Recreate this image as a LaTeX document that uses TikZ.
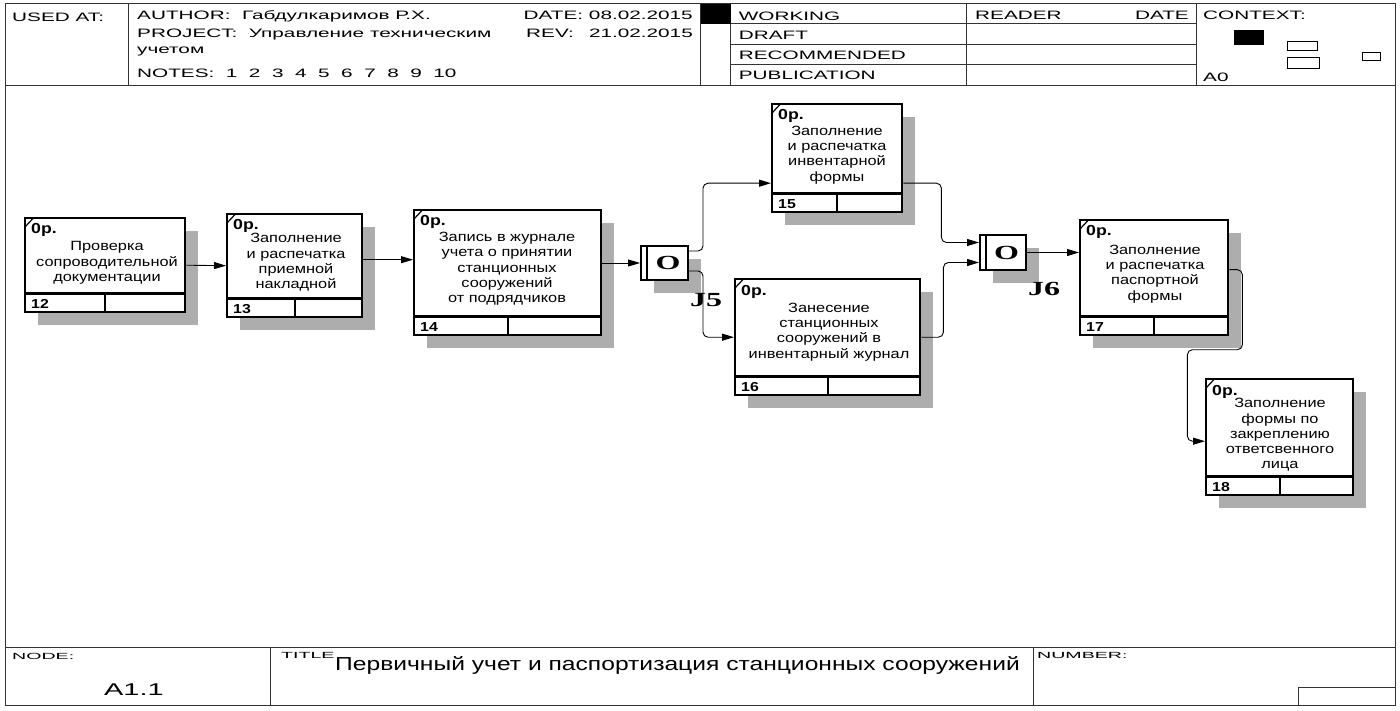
\documentclass[tikz,border=0pt]{standalone}
\usepackage{fontspec}
\setmainfont{Liberation Sans}
\newfontfamily\hdrfont[FakeStretch=1.7]{Liberation Sans}
\newfontfamily\tinyfont[FakeStretch=2.2]{Liberation Sans}
\newfontfamily\boxfont[FakeStretch=1.22]{Liberation Sans}
\newfontfamily\ttlfont[FakeStretch=1.31]{Liberation Sans}
\newfontfamily\jfont[FakeStretch=1.6]{Liberation Serif}
\usetikzlibrary{arrows.meta,shadows}

\begin{document}
\begin{tikzpicture}[x=1pt, y=-1pt,
        frame/.style={line width=1pt, draw=black!80},
        hdr/.style={font=\hdrfont\fontsize{12.2}{14}\selectfont, anchor=base west, inner sep=0pt},
        small/.style={font=\tinyfont\fontsize{8.9}{10}\selectfont, anchor=base west, inner sep=0pt},
        actbox/.style={draw, fill=white, line width=2.4pt, anchor=north west, inner sep=0pt,
            general shadow={fill=black!32, shadow xshift=13pt, shadow yshift=-13pt}},
        acttext/.style={font=\boxfont\fontsize{13.4}{15.3}\selectfont, align=center, inner sep=0pt},
        oplabel/.style={font=\boxfont\bfseries\fontsize{14.5}{16}\selectfont, anchor=base west, inner sep=0pt},
        numlabel/.style={font=\boxfont\bfseries\fontsize{13}{15}\selectfont, anchor=base west, inner sep=0pt},
        jbox/.style={draw, fill=white, line width=2pt, anchor=north west, inner sep=0pt,
            general shadow={fill=black!32, shadow xshift=13pt, shadow yshift=-13pt}},
        jtext/.style={font=\jfont\bfseries\fontsize{20}{22}\selectfont, inner sep=0pt},
        jlabel/.style={font=\jfont\bfseries\fontsize{20}{22}\selectfont, anchor=base west, inner sep=0pt},
        arr/.style={-{Triangle[length=12pt,width=7pt]}, line width=0.9pt, rounded corners=5pt}
    ]
    \path[use as bounding box, fill=white] (0,0) rectangle (1400,711);

    % frame, header and footer
    \draw[frame] (5,4) rectangle (1395,705);
    \draw[frame] (5,86) -- (1395,86);
    \draw[frame] (5,647) -- (1395,647);
    \foreach \x in {128.7, 700.7, 730.7, 966, 1196.7}
        \draw[frame] (\x,4) -- (\x,86);
    \foreach \y in {24, 44.3, 64.3}
        \draw[frame] (730.7,\y) -- (1196.7,\y);
    \fill (700.7,4) rectangle (730.7,24);
    \fill (1234,30) rectangle (1264,45);
    \draw[line width=0.8pt] (1287,41) rectangle (1317,50);
    \draw[line width=0.8pt] (1287,57) rectangle (1319,68);
    \draw[line width=0.8pt] (1362,52) rectangle (1380,60);
    \draw[frame] (270.7,647) -- (270.7,705);
    \draw[frame] (1033,647) -- (1033,705);
    \draw[frame] (1298,687) rectangle (1395,705);

    \node[hdr] (usedat) at (12,21.3) {USED AT:};
    \node[hdr] (author) at (137,20) {AUTHOR:\ \ Габдулкаримов Р.Х.};
    \node[hdr] (project) at (137,38) {PROJECT:\ \ Управление техническим};
    \node[hdr] (project2) at (137,53.3) {учетом};
    \node[hdr] (notes) at (137,77.3) {NOTES:\ \ 1\ \ 2\ \ 3\ \ 4\ \ 5\ \ 6\ \ 7\ \ 8\ \ 9\ \ 10};
    \node[hdr, anchor=base east] (date) at (693,19.3) {DATE: 08.02.2015};
    \node[hdr] (rev) at (526,38) {REV:};
    \node[hdr, anchor=base east] (revdate) at (693,38) {21.02.2015};
    \node[hdr] (working) at (738.7,20.7) {WORKING};
    \node[hdr] (draft) at (738.7,40) {DRAFT};
    \node[hdr] (recommended) at (738.7,60) {RECOMMENDED};
    \node[hdr] (publication) at (738.7,80) {PUBLICATION};
    \node[hdr] (reader) at (975,20) {READER};
    \node[hdr, anchor=base east] (rdate) at (1189,20) {DATE};
    \node[hdr] (context) at (1203,20) {CONTEXT:};
    \node[hdr] (ctxnode) at (1203,81.7) {A0};
    \node[small] (nodelbl) at (12,659) {NODE:};
    \node[hdr, font=\hdrfont\fontsize{17}{20}\selectfont] (nodeno) at (104,695) {A1.1};
    \node[small] (titlelbl) at (281,658.3) {TITLE};
    \node[anchor=base west, inner sep=0pt, font=\ttlfont\fontsize{18.8}{22}\selectfont] (title) at (335,670)
        {Первичный учет и паспортизация станционных сооружений};
    \node[small] (numberlbl) at (1037,658) {NUMBER:};

    % activity boxes
    \node[actbox, minimum width=160pt, minimum height=94pt] (b12) at (24,217) {};
    \node[actbox, minimum width=135pt, minimum height=103pt] (b13) at (226,213) {};
    \node[actbox, minimum width=187pt, minimum height=125pt] (b14) at (413,209) {};
    \node[actbox, minimum width=130pt, minimum height=108pt] (b15) at (771,103) {};
    \node[actbox, minimum width=185pt, minimum height=116pt] (b16) at (734,278) {};
    \node[actbox, minimum width=148pt, minimum height=115pt] (b17) at (1079,219) {};
    \node[actbox, minimum width=147pt, minimum height=116pt] (b18) at (1205,378) {};

    \foreach \b/\n in {b12/12, b13/13, b14/14, b15/15, b16/16, b17/17, b18/18} {
        \draw[line width=2.4pt] ([yshift=20pt]\b.south west) -- ([yshift=20pt]\b.south east);
        \draw[line width=2.4pt] (\b.south) -- ([yshift=20pt]\b.south);
        \draw[line width=1.2pt] ([xshift=1pt,yshift=-10pt]\b.north west) -- ([xshift=9pt,yshift=-1.5pt]\b.north west);
        \node[oplabel] (\b-op) at ([xshift=7pt,yshift=-17pt]\b.north west) {0р.};
        \node[numlabel] (\b-num) at ([xshift=7pt,yshift=5pt]\b.south west) {\n};
    }

    \node[acttext] (t12) at (107,263) {Проверка\\сопроводительной\\документации};
    \node[acttext] (t13) at (296,262.5) {Заполнение\\и распечатка\\приемной\\накладной};
    \node[acttext] (t14) at (507,269) {Запись в журнале\\учета о принятии\\станционных\\сооружений\\от подрядчиков};
    \node[acttext] (t15) at (837,155) {Заполнение\\и распечатка\\инвентарной\\формы};
    \node[acttext] (t16) at (829,332) {Занесение\\станционных\\сооружений в\\инвентарный журнал};
    \node[acttext] (t17) at (1155,274) {Заполнение\\и распечатка\\паспортной\\формы};
    \node[acttext] (t18) at (1280,435) {Заполнение\\формы по\\закреплению\\ответсвенного\\лица};

    % junctions
    \node[jbox, minimum width=47pt, minimum height=34pt] (j5) at (640,245) {};
    \node[jbox, minimum width=46pt, minimum height=35pt] (j6) at (979,234) {};
    \foreach \j/\l in {j5/J5, j6/J6} {
        \draw[line width=2pt] ([xshift=7pt]\j.north west) -- ([xshift=7pt]\j.south west);
        \node[jtext] (\j-o) at ([xshift=3.5pt]\j.center) {O};
        \node[jlabel] (\j-lbl) at ([xshift=1pt,yshift=-25pt]\j.south east) {\l};
    }

    % connectors
    \draw[arr] (b12.east) -- (b13.west);
    \draw[arr] ([yshift=6pt]b13.east) -- ([yshift=6pt]b13.east -| b14.west);
    \draw[arr] (b14.east |- j5.west) -- (j5.west);
    \draw[arr] ([yshift=12pt]j5.east) -- ++(14,0) |- ([yshift=-25pt]b15.west);
    \draw[arr] ([yshift=-8pt]j5.east) -- ++(14,0) |- (b16.west);
    \draw[arr] ([yshift=-25pt]b15.east) -- ++(38,0) |- ([yshift=10pt]j6.west);
    \draw[arr] (b16.east) -- ++(22,0) |- ([yshift=-10pt]j6.west);
    \draw[arr] (j6.east) -- (j6.east -| b17.west);
    \draw[arr] ([yshift=8pt]b17.east) -- ++(13,0) -- ++(0,80) -- ++(-55,0) |- ([yshift=-4pt]b18.west);
\end{tikzpicture}
\end{document}
